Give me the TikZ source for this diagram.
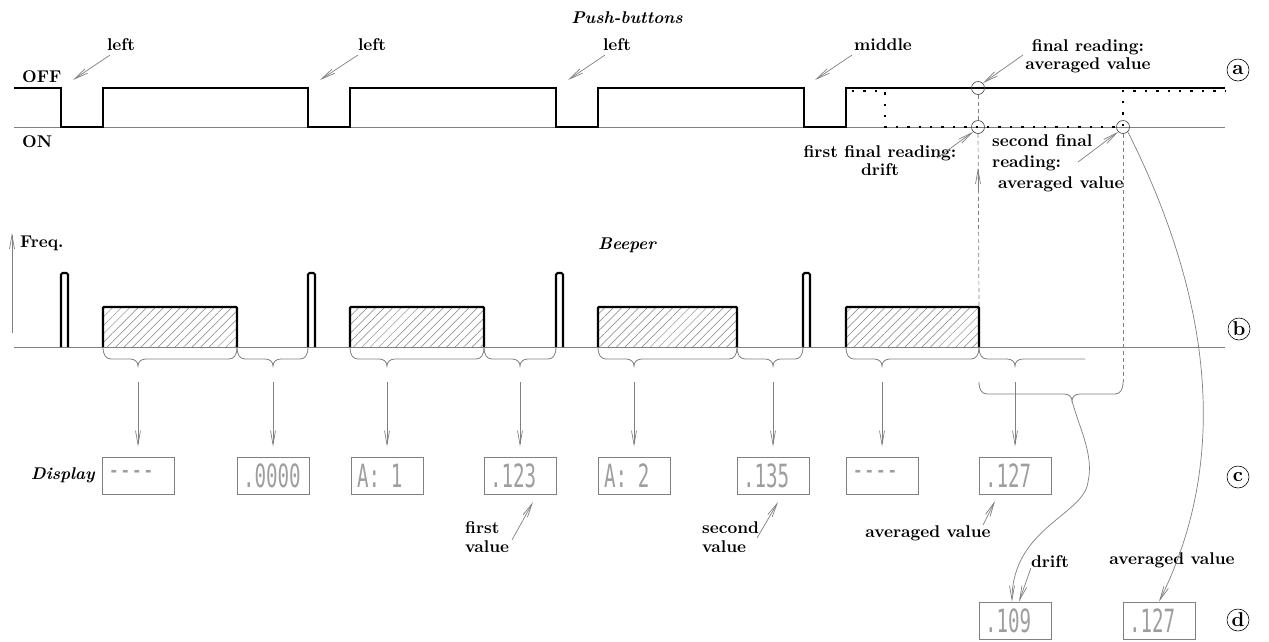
\documentclass[tikz,border=0pt]{standalone}
\usepackage{fontspec}
\setmainfont{lmroman10-regular.otf}[BoldFont=lmroman10-bold.otf, ItalicFont=lmroman10-italic.otf, BoldItalicFont=lmroman10-bolditalic.otf]
\newfontfamily\segfont[FakeStretch=0.6]{DejaVu Sans Mono}
\usetikzlibrary{arrows.meta,patterns.meta}
\definecolor{ln}{gray}{0.5}
\definecolor{sg}{gray}{0.62}
\newcommand\mybrace[5]{%
  \draw[thinl] (#1,#4) .. controls (#1,#4+8) and (#1+3,#4+12) .. (#1+8,#4+12)
    -- (#3-8,#4+12) .. controls (#3-3,#4+12) and (#3,#4+15) .. (#3,#4+19)
    coordinate (#5)
    .. controls (#3,#4+15) and (#3+3,#4+12) .. (#3+8,#4+12)
    -- (#2-8,#4+12) .. controls (#2-3,#4+12) and (#2,#4+8) .. (#2,#4);}
\begin{document}
\begin{tikzpicture}[x=1pt,y=-1pt,
  font=\fontsize{17}{19.5}\selectfont\bfseries,
  sig/.style={line width=2.3pt},
  thinl/.style={draw=ln, line width=0.8pt},
  arr/.style={draw=ln, line width=0.7pt, -{Straight Barb[length=14pt,width=5pt,line width=0.7pt]}},
  dsh/.style={draw=ln, line width=0.7pt, dash pattern=on 4pt off 3pt},
  dotl/.style={line width=2.4pt, dash pattern=on 2.4pt off 9pt},
  lbl/.style={inner sep=0pt, align=center},
  ttl/.style={inner sep=0pt, font=\fontsize{17}{19.5}\selectfont\bfseries\itshape},
  disp/.style={draw=ln, line width=0.8pt, minimum height=37pt, text width=60pt,
    inner xsep=6pt, inner ysep=0pt, align=left, text=sg,
    font=\fontsize{32}{32}\mdseries\segfont},
  tag/.style={circle, draw, line width=0.6pt, minimum size=22pt, inner sep=0pt,
    font=\fontsize{20}{20}\selectfont\bfseries},
  rc/.style={circle, draw=black!75, line width=0.6pt, minimum size=13pt, inner sep=0pt},
  blk/.style={sig, rounded corners=1pt, pattern={Lines[angle=45,distance=6pt,line width=0.5pt]}, pattern color=ln},
  pls/.style={line width=2.1pt, rounded corners=1.5pt}]
\path[fill=white, use as bounding box] (0,0) rectangle (1269,641);

% ---------- Push-buttons ----------
\node[ttl] (pb) at (627,18) {Push-buttons};
\node[lbl, anchor=west] (off) at (22,77) {OFF};
\node[lbl, anchor=west] (on) at (22,142) {ON};
\draw[thinl] (14,127) -- (1225,127);
\draw[sig] (14,88) -- (61,88) -- (61,127) -- (103,127) -- (103,88) -- (308,88) -- (308,127)
  -- (350,127) -- (350,88) -- (556,88) -- (556,127) -- (598,127) -- (598,88) -- (804,88)
  -- (804,127) -- (846,127) -- (846,88) -- (1225,88);
\draw[dotl] (852,91) -- (885,91) -- (885,127) -- (1123,127) -- (1123,91) -- (1225,91);

\node[rc] (r1) at (978,88) {};
\node[rc] (r2) at (978,127) {};
\node[rc] (r3) at (1123,127) {};

\node[lbl] (lf1) at (121,45) {left};
\node[lbl] (lf2) at (372,45) {left};
\node[lbl] (lf3) at (617,45) {left};
\node[lbl] (mid) at (883,45) {middle};
\coordinate (t1) at (73,80);
\coordinate (t2) at (320,80);
\coordinate (t3) at (568,80);
\coordinate (t4) at (815,80);
\draw[arr] (110,55) -- (t1);
\draw[arr] (358,55) -- (t2);
\draw[arr] (605,55) -- (t3);
\draw[arr] (852,55) -- (t4);

\node[lbl, font=\fontsize{17}{18}\selectfont\bfseries] (fr) at (1088,56) {final reading:\\averaged value};
\draw[arr] (1023,55) -- (r1.north east);
\node[lbl, font=\fontsize{17}{18}\selectfont\bfseries] (ffr) at (880,161) {first final reading:\\drift};
\draw[arr] (937,158) -- (r2.south west);
\node[lbl, anchor=north west, align=left, font=\fontsize{17}{21}\selectfont\bfseries] (sfr) at (992,134)
  {second final\\reading:\\\hspace*{6pt}averaged value};
\draw[arr] (1078,162) -- (r3.south west);

\node[tag] (ta) at (1238,70) {a};

% dashed verticals
\coordinate (b4c) at (979,307);
\coordinate (bbr) at (1123,382);
\draw[dsh] (r1) -- (r2);
\draw[dsh] (r2) -- (b4c);
\draw[dsh] (r3) -- (bbr);
\coordinate (upt) at (978,168);
\draw[arr] (978,192) -- (upt);

% ---------- Beeper ----------
\node[ttl] (bp) at (627,245) {Beeper};
\node[lbl, anchor=west] (fq) at (20,243) {Freq.};
\coordinate (fqt) at (12,233);
\draw[arr] (12,333) -- (fqt);
\draw[thinl] (14,347) -- (1225,347);
\draw[pls] (61,347) -- (61,273) -- (68,273) -- (68,347);
\draw[pls] (308,347) -- (308,273) -- (315,273) -- (315,347);
\draw[pls] (556,347) -- (556,273) -- (563,273) -- (563,347);
\draw[pls] (803,347) -- (803,273) -- (810,273) -- (810,347);
\draw[blk] (103,347) -- (103,307) -- (237,307) -- (237,347);
\draw[blk] (350,347) -- (350,307) -- (484,307) -- (484,347);
\draw[blk] (598,347) -- (598,307) -- (737,307) -- (737,347);
\draw[blk] (846,347) -- (846,307) -- (979,307) -- (979,347);
\node[tag] (tb) at (1239,329) {b};

% braces
\mybrace{103}{237}{138}{347}{k1}
\mybrace{237}{308}{273}{347}{k2}
\mybrace{350}{484}{387}{347}{k3}
\mybrace{484}{556}{520}{347}{k4}
\mybrace{598}{737}{634}{347}{k5}
\mybrace{737}{803}{773}{347}{k6}
\mybrace{846}{979}{882}{347}{k7}
\draw[thinl] (979,347) .. controls (979,355) and (982,359) .. (987,359) -- (1007,359)
  .. controls (1012,359) and (1015,362) .. (1015,366) coordinate (k8)
  .. controls (1015,362) and (1018,359) .. (1023,359) -- (1085,359);
\mybrace{979}{1123}{1072}{382}{kb}

% ---------- Display ----------
\node[ttl, anchor=east] (dl) at (95,475) {Display};
\node[disp] (c1) at (138,475.5) {----};
\node[disp] (c2) at (273,475.5) {.0000};
\node[disp] (c3) at (387,475.5) {A: 1};
\node[disp] (c4) at (520,475.5) {.123};
\node[disp] (c5) at (634,475.5) {A: 2};
\node[disp] (c6) at (773,475.5) {.135};
\node[disp] (c7) at (882,475.5) {----};
\node[disp] (c8) at (1015,475.5) {.127};
\node[disp] (d1) at (1015,620.5) {.109};
\node[disp] (d2) at (1159,620.5) {.127};
\node[tag] (tc) at (1238,477) {c};
\node[tag] (td) at (1238,620) {d};

\foreach \k/\c in {k1/c1,k2/c2,k3/c3,k4/c4,k5/c5,k6/c6,k7/c7,k8/c8}
  \draw[arr, shorten <=16pt, shorten >=10pt] (\k) -- (\c.north);

\node[lbl, anchor=west, align=left] (fv) at (465,537) {first\\value};
\node[lbl, anchor=west, align=left] (sv) at (702,537) {second\\value};
\coordinate (fvt) at (533,502);
\coordinate (svt) at (778,502);
\draw[arr] (512,540) -- (fvt);
\draw[arr] (757,538) -- (svt);
\node[lbl] (avc) at (928,533) {averaged value};
\coordinate (avt) at (995,501);
\draw[arr] (983,525) -- (avt);
\node[lbl] (dr) at (1050,562) {drift};
\node[lbl] (avd) at (1172,560) {averaged value};
\draw[arr] (dr.south west) -- ([xshift=4pt]d1.north);
\draw[arr] (kb) .. controls (1080,430) and (1094,455) .. (1088,482)
  .. controls (1084,515) and (1012,528) .. ([xshift=-3pt]d1.north);
\draw[arr] (r3.south east) .. controls (1205,285) and (1235,450) .. (d2.north);
\end{tikzpicture}
\end{document}
